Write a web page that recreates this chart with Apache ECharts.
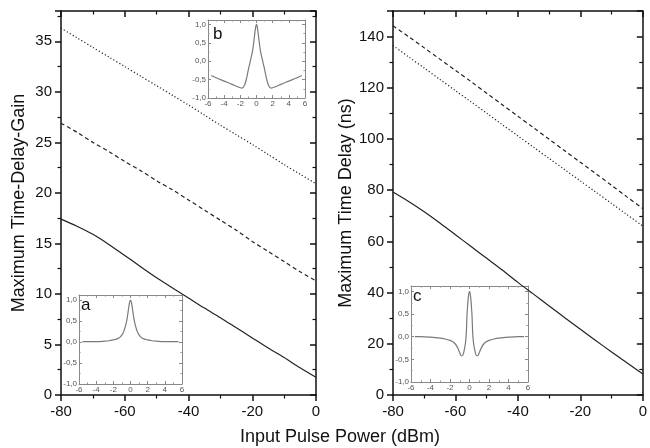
<!DOCTYPE html>
<html>
<head>
<meta charset="utf-8">
<script src="https://cdn.jsdelivr.net/npm/echarts@6/dist/echarts.min.js"></script>
<style>html,body{margin:0;padding:0;background:#fff}#c{width:650px;height:448px}</style>
</head>
<body>
<div id="c"></div>
<script>
// ---- data ----
const xPower = [-80,-75,-70,-65,-60,-55,-50,-45,-40,-35,-30,-25,-20,-15,-10,-5,0];
const gainSolid  = [17.4,16.7,15.9,14.9,13.8,12.7,11.6,10.6,9.6,8.6,7.65,6.65,5.65,4.65,3.7,2.7,1.75];
const gainDashed = [26.9,26.0,25.0,24.1,23.1,22.2,21.2,20.3,19.3,18.3,17.3,16.3,15.2,14.2,13.2,12.2,11.3];
const gainDotted = [36.3,35.35,34.4,33.45,32.5,31.55,30.6,29.65,28.7,27.7,26.7,25.75,24.8,23.8,22.8,21.85,20.9];
const delaySolid  = [79.3,75.6,71.6,67.2,62.6,58.0,53.4,48.8,44.0,39.4,34.8,30.2,25.7,21.2,16.8,12.5,8.2];
const delayDashed = [144.2,140.0,135.6,131.2,126.8,122.4,117.9,113.4,108.9,104.4,99.9,95.4,90.9,86.4,81.9,77.3,72.8];
const delayDotted = [136.5,132.1,127.7,123.3,118.9,114.5,110.1,105.6,101.2,96.8,92.4,88.0,83.6,79.2,74.8,70.4,66.0];

const insetX = [-5.6,-5,-4,-3,-2.5,-2,-1.8,-1.5,-1.25,-1,-0.85,-0.75,-0.5,-0.35,-0.25,-0.12,0,0.12,0.25,0.35,0.5,0.75,0.85,1,1.25,1.5,1.8,2,2.5,3,4,5,5.6];
const insetA = [0.01,0.01,0.01,0.02,0.03,0.05,0.06,0.08,0.11,0.17,0.22,0.27,0.45,0.62,0.76,0.93,1.0,0.93,0.76,0.62,0.45,0.27,0.22,0.17,0.11,0.08,0.06,0.05,0.03,0.02,0.01,0.01,0.01];
const insetB = [-0.39,-0.45,-0.54,-0.63,-0.68,-0.72,-0.73,-0.66,-0.48,-0.22,-0.08,0.02,0.27,0.5,0.68,0.9,1.0,0.9,0.68,0.5,0.27,0.02,-0.08,-0.22,-0.48,-0.66,-0.73,-0.72,-0.68,-0.63,-0.54,-0.45,-0.39];
const insetC = [0.0,0.0,-0.01,-0.03,-0.05,-0.08,-0.1,-0.15,-0.23,-0.35,-0.42,-0.42,-0.25,0.0,0.5,0.87,1.0,0.87,0.5,0.0,-0.25,-0.42,-0.42,-0.35,-0.23,-0.15,-0.1,-0.08,-0.05,-0.03,-0.01,0.0,0.0];

const xTicksMain = {min:-80, max:0, interval:20};
const yTicksGain = {min:0, max:38, interval:5};
const yTicksDelay = {min:0, max:150, interval:20};
const insetXTicks = {min:-6, max:6, interval:2};
const insetYTicks = {min:-1, max:1.12, interval:0.5};

const FONT = 'Liberation Sans, Arial, sans-serif';
const chart = echarts.init(document.getElementById('c'), null, {renderer:'canvas'});

function mainAxis(dim, grid, t, position, inside, showLabel, name, nameGap) {
  const a = {
    type:'value', gridIndex:grid, position:position, min:t.min, max:t.max, interval:t.interval,
    axisLine:{show:true, onZero:false, lineStyle:{color:'#111', width:1.5}},
    axisTick:{show:true, inside:inside, length:6, lineStyle:{color:'#111', width:1.5}},
    minorTick:{show:true, splitNumber:2, length:3.5, lineStyle:{color:'#111', width:1.2}},
    splitLine:{show:false},
    axisLabel:{show:showLabel, fontSize:15, color:'#111', fontFamily:FONT, margin:9, showMaxLabel:dim === 'x'}
  };
  if (name) {
    a.name = name; a.nameLocation = 'middle'; a.nameGap = nameGap;
    a.nameTextStyle = {fontSize:18, color:'#111', fontFamily:FONT};
  }
  return a;
}
function insetAxis(grid, t, position, showLabel, isY) {
  return {
    type:'value', gridIndex:grid, position:position, min:t.min, max:t.max, interval:t.interval,
    axisLine:{show:true, onZero:false, lineStyle:{color:'#888', width:1}},
    axisTick:{show:true, inside:true, length:3, lineStyle:{color:'#888', width:1}},
    minorTick:{show:true, splitNumber:2, length:1.6, lineStyle:{color:'#999', width:1}},
    splitLine:{show:false},
    axisLabel:{show:showLabel, fontSize:8, color:'#555', fontFamily:FONT, margin:2, showMaxLabel:!isY,
      formatter: isY ? (v => v.toFixed(1).replace('.', ',')) : (v => String(v))}
  };
}

const xAxes = [
  mainAxis('x',0,xTicksMain,'bottom',false,true),
  mainAxis('x',0,xTicksMain,'top',true,false),
  mainAxis('x',1,xTicksMain,'bottom',false,true),
  mainAxis('x',1,xTicksMain,'top',true,false),
];
const yAxes = [
  mainAxis('y',0,yTicksGain,'left',false,true,'Maximum Time-Delay-Gain',33),
  mainAxis('y',0,yTicksGain,'right',true,false),
  mainAxis('y',1,yTicksDelay,'left',false,true,'Maximum Time Delay (ns)',33),
  mainAxis('y',1,yTicksDelay,'right',true,false),
];
for (let g = 2; g <= 4; g++) {
  xAxes.push(insetAxis(g, insetXTicks, 'bottom', true, false));
  xAxes.push(insetAxis(g, insetXTicks, 'top', false, false));
  yAxes.push(insetAxis(g, insetYTicks, 'left', true, true));
  yAxes.push(insetAxis(g, insetYTicks, 'right', false, true));
}

function zip(xs, ys) { return xs.map((x, i) => [x, ys[i]]); }
function mainLine(xi, yi, ys, type) {
  return {type:'line', xAxisIndex:xi, yAxisIndex:yi, data:zip(xPower, ys), showSymbol:false, smooth:0.3,
    lineStyle:{color:'#222', width:1.2, type:type}};
}
function insetLine(idx, ys) {
  return {type:'line', xAxisIndex:4 + idx*2, yAxisIndex:4 + idx*2, data:zip(insetX, ys), showSymbol:false, smooth:0.4,
    lineStyle:{color:'#7a7a7a', width:1.2}};
}

const option = {
  animation:false,
  backgroundColor:'#fff',
  grid:[
    {left:61, top:11, width:255, height:384},
    {left:393, top:11, width:255, height:384},
    {left:79, top:295, width:103, height:89},
    {left:208, top:20, width:97, height:78},
    {left:411, top:286, width:117, height:96}
  ],
  xAxis:xAxes,
  yAxis:yAxes,
  series:[
    mainLine(0,0,gainSolid,'solid'),
    mainLine(0,0,gainDashed,[4,3]),
    mainLine(0,0,gainDotted,[1.2,2.2]),
    mainLine(2,2,delaySolid,'solid'),
    mainLine(2,2,delayDashed,[4,3]),
    mainLine(2,2,delayDotted,[1.2,2.2]),
    insetLine(0, insetA),
    insetLine(1, insetB),
    insetLine(2, insetC)
  ],
  graphic:[
    {type:'text', left:240, top:428, style:{text:'Input Pulse Power (dBm)', font:'18px ' + FONT, fill:'#111'}},
    {type:'text', left:81, top:297, style:{text:'a', font:'17px ' + FONT, fill:'#111'}},
    {type:'text', left:213, top:26, style:{text:'b', font:'17px ' + FONT, fill:'#111'}},
    {type:'text', left:413, top:288, style:{text:'c', font:'17px ' + FONT, fill:'#111'}}
  ]
};
chart.setOption(option);
</script>
</body>
</html>
